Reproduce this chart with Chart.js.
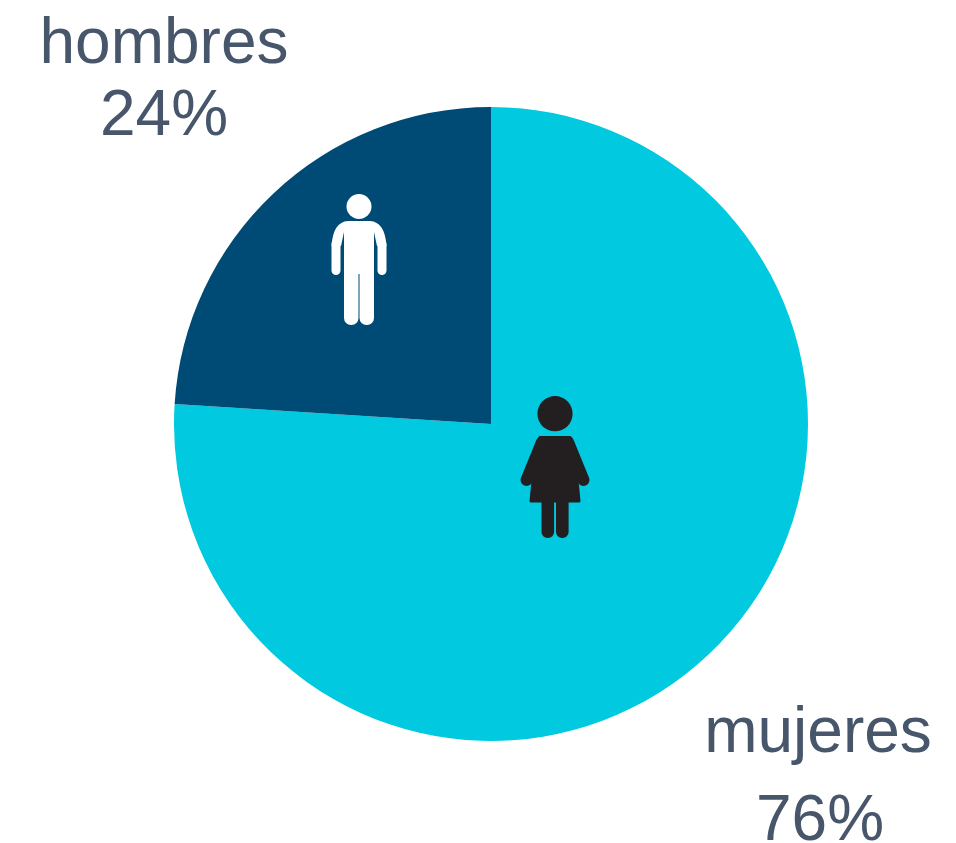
<!DOCTYPE html>
<html>
<head>
<meta charset="utf-8">
<style>
  html, body { margin: 0; padding: 0; background: #fff; overflow: hidden; }
  #wrap { position: absolute; left: 0; top: 0; width: 956px; height: 843px; }
</style>
<script src="https://cdn.jsdelivr.net/npm/chart.js@4/dist/chart.umd.min.js"></script>
</head>
<body>
<div id="wrap"><canvas id="pie" width="956" height="843"></canvas></div>
<script>
const categories = ["mujeres", "hombres"];
const values = [76, 24];
const colors = ["#00c9e0", "#004b75"];

// little people drawn on top of the slices
function drawMan(ctx, cx, top) {
  ctx.save();
  ctx.fillStyle = "#ffffff";
  ctx.strokeStyle = "#ffffff";
  ctx.beginPath();
  ctx.arc(cx, top + 12.5, 12.5, 0, Math.PI * 2);
  ctx.fill();
  // shoulders and chest
  ctx.beginPath();
  ctx.moveTo(cx - 11, top + 27);
  ctx.lineTo(cx + 11, top + 27);
  ctx.quadraticCurveTo(cx + 26, top + 28, cx + 27.5, top + 52);
  ctx.lineTo(cx + 18, top + 52);
  ctx.lineTo(cx + 15, top + 38);
  ctx.lineTo(cx + 15, top + 80);
  ctx.lineTo(cx - 15, top + 80);
  ctx.lineTo(cx - 15, top + 38);
  ctx.lineTo(cx - 18, top + 52);
  ctx.lineTo(cx - 27.5, top + 52);
  ctx.quadraticCurveTo(cx - 26, top + 28, cx - 11, top + 27);
  ctx.closePath();
  ctx.fill();
  // forearms
  ctx.lineWidth = 9;
  ctx.lineCap = "round";
  ctx.beginPath();
  ctx.moveTo(cx - 23, top + 50);
  ctx.lineTo(cx - 23, top + 76.5);
  ctx.moveTo(cx + 23, top + 50);
  ctx.lineTo(cx + 23, top + 76.5);
  ctx.stroke();
  // legs
  ctx.beginPath();
  ctx.roundRect(cx - 15, top + 70, 14.5, 61, 7);
  ctx.roundRect(cx + 0.5, top + 70, 14.5, 61, 7);
  ctx.fill();
  ctx.restore();
}

function drawWoman(ctx, cx, top) {
  ctx.save();
  ctx.fillStyle = "#231f20";
  ctx.strokeStyle = "#231f20";
  ctx.beginPath();
  ctx.arc(cx, top + 17.7, 17.6, 0, Math.PI * 2);
  ctx.fill();
  // dress
  ctx.lineJoin = "round";
  ctx.lineWidth = 3;
  ctx.beginPath();
  ctx.moveTo(cx - 15, top + 41.5);
  ctx.lineTo(cx + 15, top + 41.5);
  ctx.lineTo(cx + 22, top + 85);
  ctx.lineTo(cx + 24, top + 105);
  ctx.lineTo(cx - 24, top + 105);
  ctx.lineTo(cx - 22, top + 85);
  ctx.closePath();
  ctx.fill();
  ctx.stroke();
  // arms
  ctx.lineWidth = 12;
  ctx.lineCap = "round";
  ctx.beginPath();
  ctx.moveTo(cx - 13, top + 46);
  ctx.lineTo(cx - 28.5, top + 84);
  ctx.moveTo(cx + 13, top + 46);
  ctx.lineTo(cx + 28.5, top + 84);
  ctx.stroke();
  // legs
  ctx.beginPath();
  ctx.roundRect(cx - 13.5, top + 100, 12.6, 42, 6);
  ctx.roundRect(cx + 1, top + 100, 12.6, 42, 6);
  ctx.fill();
  ctx.restore();
}

const sliceLabels = {
  id: "sliceLabels",
  afterDraw(chart) {
    const ctx = chart.ctx;
    ctx.save();
    ctx.fillStyle = "#47566b";
    ctx.font = '64px "Liberation Sans"';
    ctx.textAlign = "center";
    ctx.textBaseline = "alphabetic";
    ctx.fillText(categories[1], 164, 63);
    ctx.fillText(values[1] + "%", 164, 135);
    ctx.fillText(categories[0], 818, 752);
    ctx.fillText(values[0] + "%", 820, 840);
    ctx.restore();
    drawMan(ctx, 359, 194);
    drawWoman(ctx, 555, 396);
  }
};

new Chart(document.getElementById("pie"), {
  type: "pie",
  data: {
    labels: categories,
    datasets: [{
      data: values,
      backgroundColor: colors,
      borderWidth: 0
    }]
  },
  options: {
    responsive: false,
    animation: false,
    layout: {
      // box around the pie: centre 491,424 radius 317
      padding: { left: 174, right: 148, top: 107, bottom: 102 }
    },
    plugins: {
      legend: { display: false },
      tooltip: { enabled: false }
    }
  },
  plugins: [sliceLabels]
});
</script>
</body>
</html>
